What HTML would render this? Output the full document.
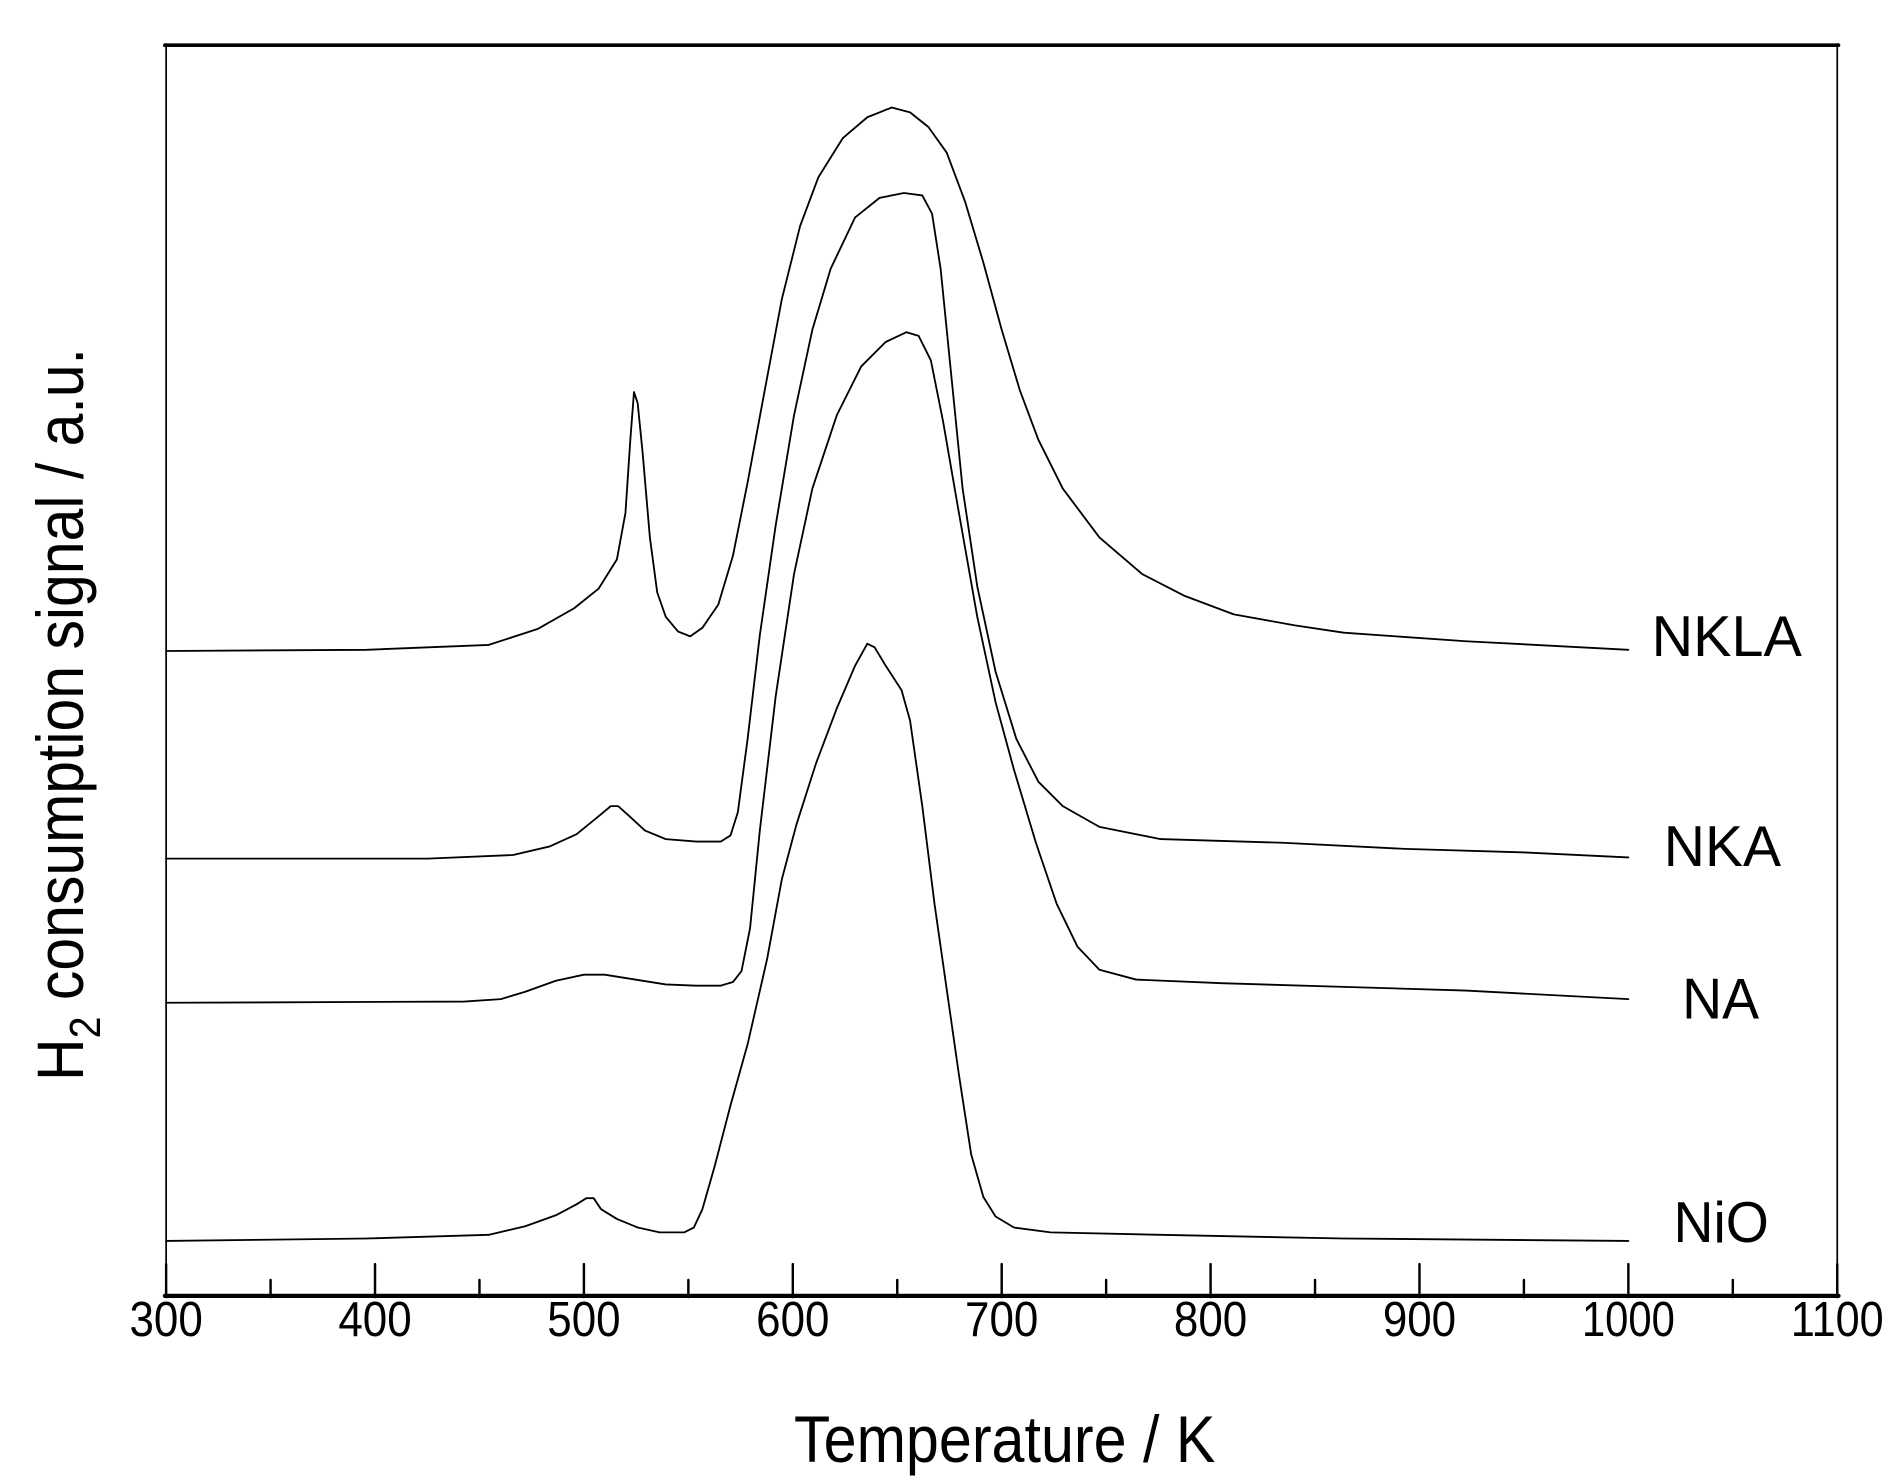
<!DOCTYPE html>
<html><head><meta charset="utf-8"><style>html,body{margin:0;padding:0;background:#fff}svg{display:block}</style></head>
<body>
<svg width="1902" height="1484" viewBox="0 0 1557 1215" preserveAspectRatio="none" xmlns="http://www.w3.org/2000/svg" font-family="Liberation Sans, Arial, sans-serif">
<rect x="0" y="0" width="1557" height="1215" fill="#fff"/>
<g fill="none" stroke="#000" stroke-linejoin="round" stroke-linecap="round">
<line x1="136" y1="36" x2="136" y2="1062" stroke-width="1.4"/>
<line x1="1504" y1="36" x2="1504" y2="1062" stroke-width="1.4"/>
<line x1="135" y1="37" x2="1505" y2="37" stroke-width="3"/>
<line x1="135" y1="1061" x2="1505" y2="1061" stroke-width="3.5"/>
<g stroke-width="2">
<path d="M136 1062V1035M307 1062V1035M478 1062V1035M649 1062V1035M820 1062V1035M991 1062V1035M1162 1062V1035M1333 1062V1035M1504 1062V1035"/>
<path d="M221.5 1062V1048M392.5 1062V1048M563.5 1062V1048M734.5 1062V1048M905.5 1062V1048M1076.5 1062V1048M1247.5 1062V1048M1418.5 1062V1048"/>
</g>
<g stroke-width="1.5">
<path d="M136 533 L300 532 L400 528 L440 515 L470 498 L490 482 L505 458 L512 420 L516 360 L519 321 L522 330 L526 370 L532 440 L538 485 L545 505 L555 517 L565 521 L575 514 L588 495 L600 455 L612 395 L625 325 L640 245 L655 185 L670 145 L690 113 L710 96 L730 88 L745 92 L760 104 L775 125 L790 165 L805 215 L820 270 L835 320 L850 360 L870 400 L900 440 L935 470 L970 488 L1010 503 L1060 512 L1100 518 L1200 525 L1333 532"/>
<path d="M136 703 L350 703 L420 700 L450 693 L472 683 L488 670 L500 660 L506 660 L515 668 L528 680 L545 687 L570 689 L590 689 L598 684 L604 665 L612 605 L622 520 L635 430 L650 340 L665 270 L680 220 L700 178 L720 162 L740 158 L755 160 L763 175 L770 220 L778 300 L788 400 L800 480 L815 550 L832 605 L850 640 L870 660 L900 677 L950 687 L1050 690 L1150 695 L1250 698 L1333 702"/>
<path d="M136 821 L380 820 L410 818 L430 812 L455 803 L478 798 L495 798 L520 802 L545 806 L570 807 L590 807 L600 804 L607 795 L614 760 L622 680 L635 570 L650 470 L665 400 L685 340 L705 300 L725 280 L742 272 L752 275 L762 295 L772 345 L785 420 L800 505 L815 575 L830 630 L848 690 L865 740 L882 775 L900 794 L930 802 L1000 805 L1100 808 L1200 811 L1333 818"/>
<path d="M136 1016 L300 1014 L400 1011 L430 1004 L455 995 L472 986 L480 981 L486 981 L492 990 L505 998 L522 1005 L540 1009 L560 1009 L568 1005 L575 990 L585 955 L598 905 L612 855 L628 785 L640 720 L652 675 L668 625 L685 580 L700 545 L710 527 L716 530 L725 545 L738 565 L745 590 L755 660 L765 740 L775 810 L785 880 L795 945 L805 980 L815 996 L830 1005 L860 1009 L950 1011 L1100 1014 L1333 1016"/>
</g>
</g>
<g font-size="40" text-anchor="middle" fill="#000" lengthAdjust="spacingAndGlyphs">
<text x="136" y="1094" textLength="60" lengthAdjust="spacingAndGlyphs">300</text><text x="307" y="1094" textLength="60" lengthAdjust="spacingAndGlyphs">400</text><text x="478" y="1094" textLength="60" lengthAdjust="spacingAndGlyphs">500</text><text x="649" y="1094" textLength="60" lengthAdjust="spacingAndGlyphs">600</text><text x="820" y="1094" textLength="60" lengthAdjust="spacingAndGlyphs">700</text><text x="991" y="1094" textLength="60" lengthAdjust="spacingAndGlyphs">800</text><text x="1162" y="1094" textLength="60" lengthAdjust="spacingAndGlyphs">900</text><text x="1333" y="1094" textLength="76" lengthAdjust="spacingAndGlyphs">1000</text><text x="1504" y="1094" textLength="76" lengthAdjust="spacingAndGlyphs">1100</text>
</g>
<text x="650" y="1197" font-size="54" textLength="345" lengthAdjust="spacingAndGlyphs">Temperature / K</text>
<text transform="translate(68,885) rotate(-90)" font-size="54" textLength="600" lengthAdjust="spacingAndGlyphs">H<tspan font-size="36" dy="14">2</tspan><tspan dy="-14"> consumption signal / a.u.</tspan></text>
<g font-size="47">
<text x="1352" y="537" textLength="123" lengthAdjust="spacingAndGlyphs">NKLA</text>
<text x="1362" y="709" textLength="96" lengthAdjust="spacingAndGlyphs">NKA</text>
<text x="1377" y="834" textLength="63" lengthAdjust="spacingAndGlyphs">NA</text>
<text x="1370" y="1017" textLength="78" lengthAdjust="spacingAndGlyphs">NiO</text>
</g>
</svg>
</body></html>
